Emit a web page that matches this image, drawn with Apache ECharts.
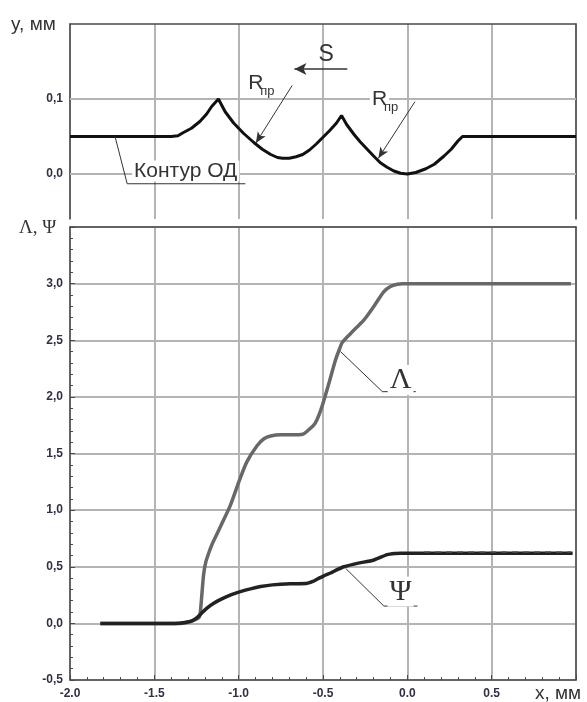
<!DOCTYPE html>
<html>
<head>
<meta charset="utf-8">
<script src="https://cdn.jsdelivr.net/npm/echarts@6/dist/echarts.min.js"></script>
<style>
html,body{margin:0;padding:0;background:#fff}
#chart{width:587px;height:702px}
</style>
</head>
<body>
<div id="chart"></div>
<script>
// верхняя панель: контур ОД, [x мм, y мм]
var contour = [[-2.0,0.05],[-1.40,0.05],[-1.36,0.051],[-1.33,0.055],[-1.28,0.061],[-1.23,0.07],[-1.19,0.08],
	[-1.16,0.09],[-1.12,0.10],[-1.08,0.083],[-1.03,0.068],[-0.97,0.054],[-0.91,0.042],[-0.86,0.033],
	[-0.81,0.026],[-0.77,0.022],[-0.74,0.021],[-0.70,0.021],[-0.66,0.023],[-0.62,0.026],[-0.58,0.032],
	[-0.54,0.040],[-0.50,0.049],[-0.46,0.058],[-0.42,0.068],[-0.39,0.078],[-0.36,0.066],[-0.317,0.053],
	[-0.28,0.043],[-0.238,0.033],[-0.20,0.024],[-0.16,0.015],[-0.12,0.009],[-0.08,0.004],[-0.04,0.001],
	[0.0,0.0],[0.05,0.002],[0.11,0.007],[0.16,0.013],[0.218,0.024],[0.26,0.033],[0.30,0.044],[0.327,0.05],[1.0,0.05]];

// нижняя панель: Λ и Ψ
var lambda = [[-1.82,0],[-1.35,0],[-1.30,0.01],[-1.26,0.03],[-1.236,0.05],[-1.228,0.09],[-1.22,0.22],
	[-1.208,0.43],[-1.195,0.54],[-1.18,0.61],[-1.16,0.69],[-1.138,0.76],[-1.10,0.88],[-1.05,1.04],
	[-0.994,1.27],[-0.95,1.43],[-0.89,1.57],[-0.85,1.63],[-0.81,1.655],[-0.75,1.665],[-0.68,1.665],
	[-0.62,1.67],[-0.584,1.71],[-0.555,1.75],[-0.535,1.80],[-0.505,1.92],[-0.465,2.12],[-0.425,2.33],
	[-0.40,2.43],[-0.386,2.48],[-0.336,2.56],[-0.257,2.68],[-0.198,2.80],[-0.139,2.93],[-0.10,2.975],
	[-0.06,2.995],[-0.03,3.0],[0.97,3.0]];
var psi = [[-1.82,0],[-1.38,0],[-1.32,0.008],[-1.28,0.02],[-1.247,0.05],[-1.22,0.09],[-1.188,0.135],
	[-1.15,0.175],[-1.109,0.21],[-1.05,0.25],[-0.99,0.28],[-0.93,0.305],[-0.87,0.325],[-0.80,0.34],
	[-0.693,0.35],[-0.60,0.352],[-0.56,0.37],[-0.535,0.39],[-0.495,0.42],[-0.455,0.445],[-0.415,0.475],
	[-0.376,0.50],[-0.297,0.53],[-0.198,0.56],[-0.119,0.607],[-0.07,0.618],[-0.04,0.62],[0.98,0.62]];
var psiDash = [[0.10,0.632],[0.97,0.632]];

var topYTicks = [0, 0.1];
var topLabels = ['0,0', '0,1'];

var labelColor = '#303044';
var axisColor = '#4a4a4a';
var gridColor = '#b4b4b4';

var chart = echarts.init(document.getElementById('chart'));

function fmtDot(v) { return v > 0.75 ? '' : v.toFixed(1); }
function fmtComma(v) { return v > 3.25 ? '' : v.toFixed(1).replace('.', ','); }

var gridLine = {show: true, lineStyle: {color: gridColor, width: 2, type: 'solid'}};
var border = {show: true, onZero: false, lineStyle: {color: axisColor, width: 1.5}};
var labelFont = {color: labelColor, fontSize: 12, fontWeight: 'bold', fontFamily: 'Liberation Sans'};

// рамка: ось без подписей
function frameAxis(grid, pos, min, max) {
	return {
		gridIndex: grid, type: 'value', min: min, max: max, position: pos,
		axisLine: border, axisTick: {show: false}, axisLabel: {show: false}, splitLine: {show: false}
	};
}

var series = [
	{
		name: 'Контур ОД', type: 'line', xAxisIndex: 0, yAxisIndex: 0, data: contour,
		showSymbol: false, silent: true, z: 3,
		lineStyle: {color: '#111', width: 3}
	},
	{
		// выноска "Контур ОД" и стрелки
		type: 'line', xAxisIndex: 0, yAxisIndex: 0, silent: true, showSymbol: false, z: 4,
		data: [[-1.733,0.05],[-1.661,-0.013],[-0.96,-0.013]],
		lineStyle: {color: '#333', width: 1},
		markLine: {
			silent: true,
			symbol: ['none', 'arrow'], symbolSize: [7, 11],
			lineStyle: {color: '#333', width: 1, type: 'solid'},
			label: {show: false},
			data: [
				[{coord: [-0.683, 0.118]}, {coord: [-0.898, 0.0413]}],
				[{coord: [0.045, 0.0964]}, {coord: [-0.172, 0.0209]}],
				[{coord: [-0.356, 0.14], lineStyle: {width: 1.5}}, {coord: [-0.669, 0.14], symbolSize: [9, 12]}]
			]
		}
	},
	{
		name: 'Λ', type: 'line', xAxisIndex: 1, yAxisIndex: 2, data: lambda,
		showSymbol: false, silent: true, z: 3, smooth: 0.25,
		lineStyle: {color: '#686868', width: 3.5}
	},
	{
		name: 'Ψ', type: 'line', xAxisIndex: 1, yAxisIndex: 2, data: psi,
		showSymbol: false, silent: true, z: 4, smooth: 0.25,
		lineStyle: {color: '#222', width: 3.5}
	},
	{
		type: 'line', xAxisIndex: 1, yAxisIndex: 2, data: psiDash,
		showSymbol: false, silent: true, z: 5,
		lineStyle: {color: '#666', width: 1.5, type: [6, 5]}
	},
	{
		// выноски Λ и Ψ
		type: 'line', xAxisIndex: 1, yAxisIndex: 2, silent: true, showSymbol: false, z: 6,
		data: [[-0.396,2.40],[-0.148,2.046],[0.05,2.046]],
		lineStyle: {color: '#333', width: 1}
	},
	{
		type: 'line', xAxisIndex: 1, yAxisIndex: 2, silent: true, showSymbol: false, z: 6,
		data: [[-0.366,0.486],[-0.139,0.153],[0.06,0.153]],
		lineStyle: {color: '#333', width: 1}
	}
];
// горизонтальная сетка верхней панели
topYTicks.forEach(function (v) {
	series.push({
		type: 'line', xAxisIndex: 0, yAxisIndex: 0, silent: true, showSymbol: false, z: 1,
		data: [[-2, v], [1, v]],
		lineStyle: {color: gridColor, width: 2}
	});
});

chart.setOption({
	animation: false,
	grid: [
		{left: 70, right: 11, top: 24, bottom: 483},
		{left: 70, right: 11, top: 227, bottom: 22}
	],
	xAxis: [
		{
			gridIndex: 0, type: 'value', min: -2, max: 1, interval: 0.5, position: 'top',
			axisLine: border, axisTick: {show: false}, axisLabel: {show: false},
			splitLine: gridLine
		},
		{
			gridIndex: 1, type: 'value', min: -2, max: 1, interval: 0.5,
			axisLine: border,
			axisTick: {show: true, inside: true, length: 5, lineStyle: {color: axisColor}},
			minorTick: {show: true, splitNumber: 5, length: 3, lineStyle: {color: axisColor}},
			axisLabel: Object.assign({formatter: fmtDot, margin: 8}, labelFont),
			splitLine: gridLine
		},
		frameAxis(1, 'top', -2, 1)
	],
	yAxis: [
		frameAxis(0, 'left', -0.06, 0.2),
		frameAxis(0, 'right', -0.06, 0.2),
		{
			gridIndex: 1, type: 'value', min: -0.5, max: 3.5, interval: 0.5,
			axisLine: border,
			axisTick: {show: true, inside: true, length: 5, lineStyle: {color: axisColor}},
			minorTick: {show: true, splitNumber: 5, length: 3, lineStyle: {color: axisColor}},
			axisLabel: Object.assign({formatter: fmtComma, margin: 7}, labelFont),
			splitLine: gridLine
		},
		frameAxis(1, 'right', -0.5, 3.5)
	],
	series: series
});

function px(s, p) { return chart.convertToPixel({seriesIndex: s}, p); }

var sans = 'Liberation Sans, Arial, sans-serif';
var serif = 'Liberation Serif, Times New Roman, serif';
var notes = [];
function note(pos, text, size, family, align, bg, extra) {
	notes.push({
		type: 'text', x: pos[0], y: pos[1], z: 100,
		style: Object.assign({
			text: text, fontSize: size, fontFamily: family, fill: '#333',
			align: align || 'left', verticalAlign: 'middle',
			backgroundColor: bg ? '#fff' : null, padding: bg ? [0, 2, 0, 2] : 0
		}, extra || {})
	});
}
// подписи шкалы верхней панели
topYTicks.forEach(function (v, i) {
	var p = px(0, [-2, v]);
	note([p[0] - 7, p[1]], topLabels[i], 12, 'Liberation Sans', 'right', false, {fill: labelColor, fontWeight: 'bold'});
});
note(px(0, [-1.632, 0.004]), 'Контур ОД', 21, sans, 'left', true);
var r1 = px(0, [-0.955, 0.121]);
note(r1, 'R', 21, sans, 'left', true);
note([r1[0] + 14, r1[1] + 8], 'пр', 13, sans, 'left', false);
var r2 = px(0, [-0.222, 0.1]);
note(r2, 'R', 21, sans, 'left', true);
note([r2[0] + 14, r2[1] + 8], 'пр', 13, sans, 'left', false);
note(px(0, [-0.481, 0.159]), 'S', 23, sans, 'center', false);
note(px(2, [-0.04, 2.15]), 'Λ', 30, serif, 'center', true);
note(px(3, [-0.04, 0.28]), 'Ψ', 30, serif, 'center', true);
// подписи осей
note([11, 25], 'y, мм', 19, sans, 'left', false);
note([19, 228], 'Λ, Ψ', 19, serif, 'left', false);
note([535, 694], 'x, мм', 19, sans, 'left', false);
chart.setOption({graphic: notes});
</script>
</body>
</html>
